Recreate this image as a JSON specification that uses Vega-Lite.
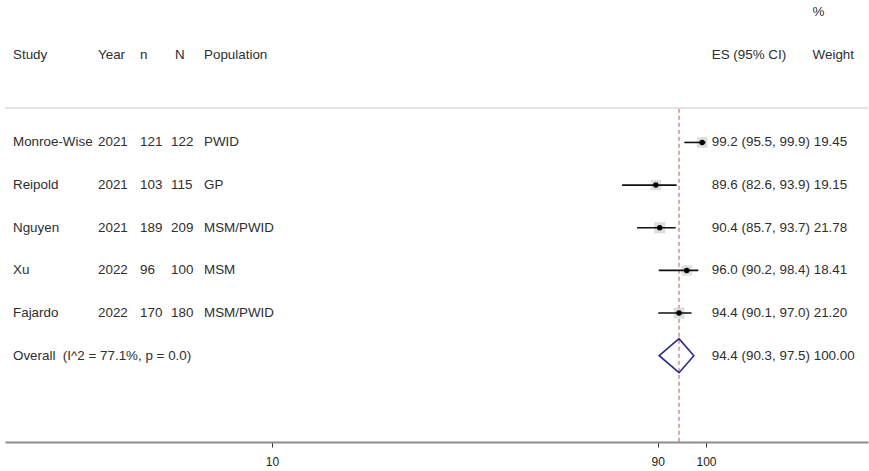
{
  "$schema": "https://vega.github.io/schema/vega-lite/v6.json",
  "width": 863,
  "height": 442,
  "autosize": {"type": "none"},
  "padding": {"left": 5, "right": 1, "top": 0, "bottom": 29},
  "background": "white",
  "config": {
    "view": {"stroke": null},
    "text": {"font": "Liberation Sans", "fontSize": 13.4, "color": "#2e2e2e", "baseline": "middle", "align": "left"}
  },
  "datasets": {
    "table": [
      {"key": "head", "study": "Study", "year": "Year", "n": "n", "N": "N", "pop": "Population", "esw": "ES (95% CI)"},
      {"key": "Monroe-Wise", "study": "Monroe-Wise", "year": "2021", "n": "121", "N": "122", "pop": "PWID", "esw": "99.2 (95.5, 99.9) 19.45"},
      {"key": "Reipold", "study": "Reipold", "year": "2021", "n": "103", "N": "115", "pop": "GP", "esw": "89.6 (82.6, 93.9) 19.15"},
      {"key": "Nguyen", "study": "Nguyen", "year": "2021", "n": "189", "N": "209", "pop": "MSM/PWID", "esw": "90.4 (85.7, 93.7) 21.78"},
      {"key": "Xu", "study": "Xu", "year": "2022", "n": "96", "N": "100", "pop": "MSM", "esw": "96.0 (90.2, 98.4) 18.41"},
      {"key": "Fajardo", "study": "Fajardo", "year": "2022", "n": "170", "N": "180", "pop": "MSM/PWID", "esw": "94.4 (90.1, 97.0) 21.20"},
      {"key": "Overall", "study": "Overall \u00a0(I^2 = 77.1%, p = 0.0)", "year": "", "n": "", "N": "", "pop": "", "esw": "94.4 (90.3, 97.5) 100.00"}
    ],
    "studies": [
      {"key": "Monroe-Wise", "es": 99.2, "lci": 95.5, "uci": 99.9, "weight": 19.45},
      {"key": "Reipold", "es": 89.6, "lci": 82.6, "uci": 93.9, "weight": 19.15},
      {"key": "Nguyen", "es": 90.4, "lci": 85.7, "uci": 93.7, "weight": 21.78},
      {"key": "Xu", "es": 96.0, "lci": 90.2, "uci": 98.4, "weight": 18.41},
      {"key": "Fajardo", "es": 94.4, "lci": 90.1, "uci": 97.0, "weight": 21.2}
    ],
    "overall": [
      {"key": "Overall", "es": 94.4, "lci": 90.3, "uci": 97.5}
    ],
    "weighthead": [
      {"key": "pct", "t": "%"},
      {"key": "head", "t": "Weight"}
    ]
  },
  "encoding": {
    "y": {
      "field": "key",
      "type": "nominal",
      "axis": null,
      "scale": {
        "type": "point",
        "domain": ["pct", "head", "line", "Monroe-Wise", "Reipold", "Nguyen", "Xu", "Fajardo", "Overall", "g2", "end"],
        "range": [14.5, 441],
        "padding": 0
      }
    }
  },
  "layer": [
    {
      "data": {"values": [{}]},
      "mark": {"type": "rule", "color": "#e3e3e3", "strokeWidth": 2, "yOffset": 8.2},
      "encoding": {"y": {"datum": "line"}}
    },
    {
      "data": {"values": [{}]},
      "mark": {"type": "rule", "color": "#c0504d", "strokeWidth": 1, "strokeDash": [4, 3], "yOffset": 9, "y2Offset": 1},
      "encoding": {
        "x": {"datum": 94.4, "type": "quantitative"},
        "y": {"datum": "line"},
        "y2": {"datum": "end"}
      }
    },
    {
      "data": {"name": "studies"},
      "mark": {"type": "square", "color": "#cfcfcf", "opacity": 0.7},
      "encoding": {
        "x": {
          "field": "es",
          "type": "quantitative",
          "scale": {"domain": [-45.37, 133.59], "nice": false, "zero": false},
          "axis": {
            "values": [10, 90, 100],
            "title": null,
            "grid": false,
            "tickSize": 5,
            "tickColor": "#333",
            "tickWidth": 1,
            "labelFont": "Liberation Sans",
            "labelFontSize": 12,
            "labelColor": "#222",
            "labelPadding": 9,
            "domainColor": "#8c8c8c",
            "domainWidth": 2
          }
        },
        "size": {"field": "weight", "type": "quantitative", "scale": {"domain": [0, 25], "range": [0, 140]}, "legend": null}
      }
    },
    {
      "data": {"name": "studies"},
      "mark": {"type": "rule", "color": "#111", "strokeWidth": 1.6},
      "encoding": {
        "x": {"field": "lci", "type": "quantitative"},
        "x2": {"field": "uci"}
      }
    },
    {
      "data": {"name": "studies"},
      "mark": {"type": "circle", "color": "#000", "opacity": 1, "size": 30},
      "encoding": {"x": {"field": "es", "type": "quantitative"}}
    },
    {
      "data": {"name": "overall"},
      "mark": {"type": "point", "shape": "M-1,0L0,-0.86L0.75,0L0,0.86Z", "size": 1568, "filled": false, "stroke": "#2b2b8a", "strokeWidth": 1.6, "opacity": 1},
      "encoding": {"x": {"field": "es", "type": "quantitative"}}
    },
    {
      "data": {"name": "table"},
      "mark": {"type": "text", "dy": -2.2},
      "transform": [{"filter": "datum.key == 'head'"}],
      "encoding": {"x": {"datum": -43.71, "type": "quantitative"}, "text": {"field": "study"}}
    },
    {
      "data": {"name": "table"},
      "mark": {"type": "text", "dy": -2.2},
      "transform": [{"filter": "datum.key == 'head'"}],
      "encoding": {"x": {"datum": -26.08, "type": "quantitative"}, "text": {"field": "year"}}
    },
    {
      "data": {"name": "table"},
      "mark": {"type": "text", "dy": -2.2},
      "transform": [{"filter": "datum.key == 'head'"}],
      "encoding": {"x": {"datum": -17.37, "type": "quantitative"}, "text": {"field": "n"}}
    },
    {
      "data": {"name": "table"},
      "mark": {"type": "text", "dy": -2.2},
      "transform": [{"filter": "datum.key == 'head'"}],
      "encoding": {"x": {"datum": -10.1, "type": "quantitative"}, "text": {"field": "N"}}
    },
    {
      "data": {"name": "table"},
      "mark": {"type": "text", "dy": -2.2},
      "transform": [{"filter": "datum.key == 'head'"}],
      "encoding": {"x": {"datum": -4.1, "type": "quantitative"}, "text": {"field": "pop"}}
    },
    {
      "data": {"name": "table"},
      "mark": {"type": "text", "dy": -2.2},
      "transform": [{"filter": "datum.key == 'head'"}],
      "encoding": {"x": {"datum": 101.18, "type": "quantitative"}, "text": {"field": "esw"}}
    },
    {
      "data": {"name": "table"},
      "mark": {"type": "text"},
      "transform": [{"filter": "datum.key != 'head'"}],
      "encoding": {"x": {"datum": -43.71, "type": "quantitative"}, "text": {"field": "study"}}
    },
    {
      "data": {"name": "table"},
      "mark": {"type": "text"},
      "transform": [{"filter": "datum.key != 'head'"}],
      "encoding": {"x": {"datum": -26.08, "type": "quantitative"}, "text": {"field": "year"}}
    },
    {
      "data": {"name": "table"},
      "mark": {"type": "text"},
      "transform": [{"filter": "datum.key != 'head'"}],
      "encoding": {"x": {"datum": -17.37, "type": "quantitative"}, "text": {"field": "n"}}
    },
    {
      "data": {"name": "table"},
      "mark": {"type": "text"},
      "transform": [{"filter": "datum.key != 'head'"}],
      "encoding": {"x": {"datum": -10.94, "type": "quantitative"}, "text": {"field": "N"}}
    },
    {
      "data": {"name": "table"},
      "mark": {"type": "text"},
      "transform": [{"filter": "datum.key != 'head'"}],
      "encoding": {"x": {"datum": -4.1, "type": "quantitative"}, "text": {"field": "pop"}}
    },
    {
      "data": {"name": "table"},
      "mark": {"type": "text"},
      "transform": [{"filter": "datum.key != 'head'"}],
      "encoding": {"x": {"datum": 101.18, "type": "quantitative"}, "text": {"field": "esw"}}
    },
    {
      "data": {"name": "weighthead"},
      "mark": {"type": "text", "dy": -2.2},
      "encoding": {"x": {"datum": 122.1, "type": "quantitative"}, "text": {"field": "t"}}
    }
  ]
}
